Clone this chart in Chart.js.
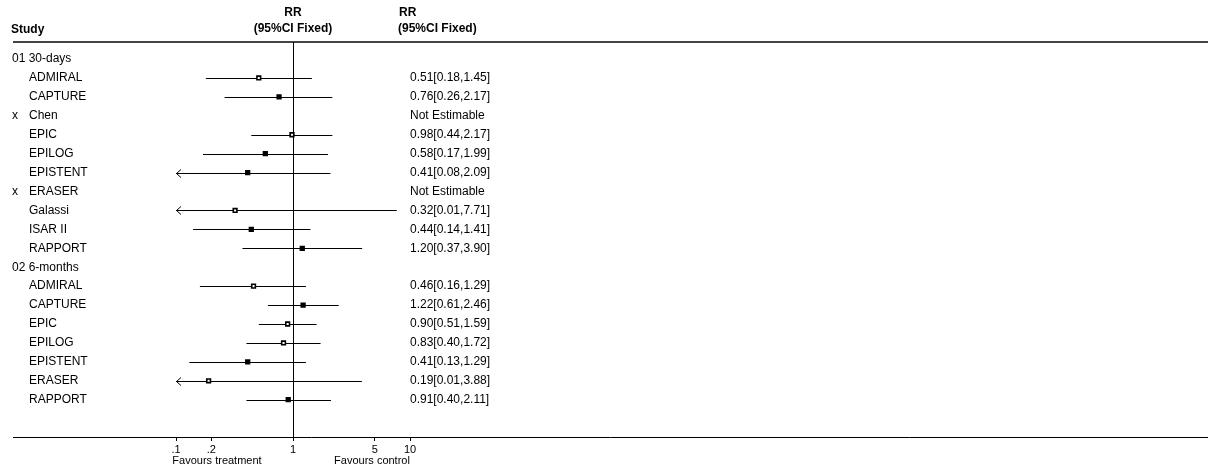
<!DOCTYPE html>
<html>
<head>
<meta charset="utf-8">
<script src="https://cdn.jsdelivr.net/npm/chart.js@4/dist/chart.umd.min.js"></script>
<style>
  body { margin: 0; background: #fff; }
</style>
</head>
<body>
<canvas id="forest" width="1208" height="470"></canvas>
<script>
// rows of the forest plot, top to bottom
var rowLabels = ['01 30-days', 'ADMIRAL', 'CAPTURE', 'Chen', 'EPIC', 'EPILOG', 'EPISTENT', 'ERASER', 'Galassi', 'ISAR II', 'RAPPORT',
                 '02 6-months', 'ADMIRAL', 'CAPTURE', 'EPIC', 'EPILOG', 'EPISTENT', 'ERASER', 'RAPPORT'];
var groupRows = [0, 11];
var excludedRows = [3, 7];   // marked with "x"

var rr    = [null, 0.51, 0.76, null, 0.98, 0.58, 0.41, null, 0.32, 0.44, 1.20, null, 0.46, 1.22, 0.90, 0.83, 0.41, 0.19, 0.91];
var lower = [null, 0.18, 0.26, null, 0.44, 0.17, 0.08, null, 0.01, 0.14, 0.37, null, 0.16, 0.61, 0.51, 0.40, 0.13, 0.01, 0.40];
var upper = [null, 1.45, 2.17, null, 2.17, 1.99, 2.09, null, 7.71, 1.41, 3.90, null, 1.29, 2.46, 1.59, 1.72, 1.29, 3.88, 2.11];
// study weights (%)
var weights = [null, 8, 12, null, 10, 14, 14, null, 4, 15, 15, null, 9, 25, 10, 9, 17, 4, 20];

var tickValues = [0.1, 0.2, 1, 5, 10];
var tickLabels = ['.1', '.2', '1', '5', '10'];

var FONT = '"Liberation Sans", Arial, sans-serif';

function fmt(v) { return v.toFixed(2); }

var points = [];
var pointColors = [];
rr.forEach(function (v, i) {
    if (v !== null) {
        points.push({ x: v, y: i });
        pointColors.push(weights[i] > 11 ? '#000' : '#fff');
    }
});

// CI lines, text columns and frame lines
var forestPlugin = {
    id: 'forest',
    beforeDatasetsDraw: function (chart) {
        var ctx = chart.ctx, xs = chart.scales.x, ys = chart.scales.y, area = chart.chartArea;
        ctx.save();
        ctx.strokeStyle = '#000';
        ctx.lineWidth = 1;
        // top double line
        ctx.fillStyle = '#444';
        ctx.fillRect(13, 41, 1208 - 13, 2);
        // bottom line
        ctx.beginPath();
        ctx.moveTo(13, Math.round(area.bottom) + 0.5);
        ctx.lineTo(1208, Math.round(area.bottom) + 0.5);
        ctx.stroke();
        // line of no effect
        var x1 = Math.round(xs.getPixelForValue(1)) + 0.5;
        ctx.beginPath();
        ctx.moveTo(x1, 42);
        ctx.lineTo(x1, area.bottom + 3);
        ctx.stroke();
        // confidence intervals
        for (var i = 0; i < rr.length; i++) {
            if (rr[i] === null) continue;
            var y = Math.round(ys.getPixelForValue(i)) + 0.5;
            var lo = Math.max(lower[i], xs.min), hi = Math.min(upper[i], xs.max);
            var xa = xs.getPixelForValue(lo), xb = xs.getPixelForValue(hi);
            ctx.beginPath();
            ctx.moveTo(xa, y);
            ctx.lineTo(xb, y);
            ctx.stroke();
            if (lower[i] < xs.min) {
                ctx.beginPath();
                ctx.moveTo(xa + 5, y - 4);
                ctx.lineTo(xa + 0.5, y);
                ctx.lineTo(xa + 5, y + 4);
                ctx.stroke();
            }
        }
        ctx.restore();
    },
    afterDraw: function (chart) {
        var ctx = chart.ctx, xs = chart.scales.x, ys = chart.scales.y, area = chart.chartArea;
        ctx.save();
        ctx.fillStyle = '#000';
        ctx.textBaseline = 'middle';
        // headers
        ctx.font = 'bold 12px ' + FONT;
        ctx.textAlign = 'left';
        ctx.fillText('Study', 11, 30);
        ctx.fillText('RR', 399, 13);
        ctx.fillText('(95%CI Fixed)', 398, 29);
        ctx.textAlign = 'center';
        var cx = xs.getPixelForValue(1);
        ctx.fillText('RR', cx, 13);
        ctx.fillText('(95%CI Fixed)', cx, 29);
        // rows
        ctx.font = '12px ' + FONT;
        ctx.textAlign = 'left';
        for (var i = 0; i < rowLabels.length; i++) {
            var y = ys.getPixelForValue(i);
            if (groupRows.indexOf(i) >= 0) {
                ctx.fillText(rowLabels[i], 12, y);
                continue;
            }
            if (excludedRows.indexOf(i) >= 0) ctx.fillText('x', 12, y);
            ctx.fillText(rowLabels[i], 29, y);
            var txt = rr[i] === null ? 'Not Estimable'
                : fmt(rr[i]) + '[' + fmt(lower[i]) + ',' + fmt(upper[i]) + ']';
            ctx.fillText(txt, 410, y);
        }
        // favours labels
        ctx.font = '11px ' + FONT;
        ctx.textAlign = 'center';
        ctx.fillText('Favours treatment', area.left + 41, 461);
        ctx.fillText('Favours control', area.left + 196, 461);
        ctx.restore();
    }
};

var ctx = document.getElementById('forest').getContext('2d');
var forestChart = new Chart(ctx, {
    type: 'scatter',
    data: {
        datasets: [{
            data: points,
            pointStyle: 'rect',
            pointRadius: 2.6,
            pointHoverRadius: 2.6,
            pointBackgroundColor: pointColors,
            pointBorderColor: '#000',
            pointBorderWidth: 1.6
        }]
    },
    options: {
        responsive: false,
        animation: false,
        events: [],
        layout: {
            padding: { left: 176, right: 798, top: 42, bottom: 0 }
        },
        scales: {
            x: {
                type: 'logarithmic',
                min: 0.1,
                max: 10,
                afterBuildTicks: function (scale) {
                    scale.ticks = tickValues.map(function (v) { return { value: v }; });
                },
                afterFit: function (scale) { scale.height = 33; },
                ticks: {
                    autoSkip: false,
                    maxRotation: 0,
                    padding: 2,
                    color: '#000',
                    font: { size: 11, family: FONT },
                    callback: function (value) {
                        var k = tickValues.indexOf(value);
                        return k >= 0 ? tickLabels[k] : '';
                    }
                },
                grid: {
                    drawOnChartArea: false,
                    drawTicks: true,
                    tickLength: 4,
                    color: '#000'
                },
                border: { display: false }
            },
            y: {
                type: 'linear',
                reverse: true,
                min: -0.9,
                max: 19.97,
                display: false
            }
        },
        plugins: {
            legend: { display: false },
            tooltip: { enabled: false }
        }
    },
    plugins: [forestPlugin]
});
</script>
</body>
</html>
